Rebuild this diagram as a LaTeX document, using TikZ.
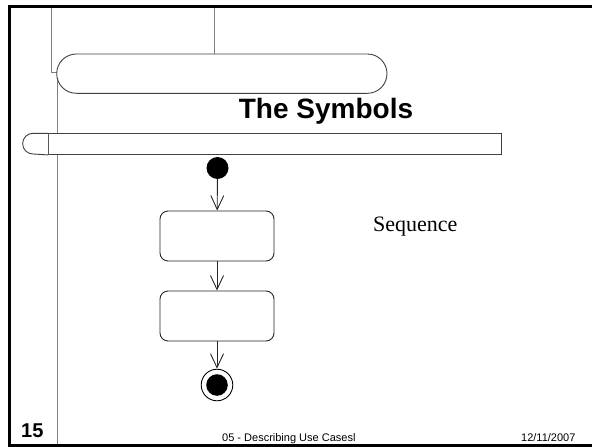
\documentclass[tikz,border=0pt]{standalone}
\usepackage{fontspec}
\setmainfont{Liberation Sans}
\newfontfamily\serifface{Liberation Serif}
\usetikzlibrary{arrows.meta}
\tikzset{
  guide/.style={draw=black!50, line width=0.9pt},
  outline/.style={draw=black!75, line width=0.9pt, fill=white},
  actbox/.style={draw=black!85, line width=0.9pt, rounded corners=8pt, minimum width=114pt, minimum height=50pt, inner sep=0pt, fill=white},
  flow/.style={draw=black!85, line width=0.9pt, -{Straight Barb[length=14pt,width=13pt]}},
}
\begin{document}
\begin{tikzpicture}[x=1pt,y=-1pt]
\useasboundingbox (0,0) rectangle (592,447);
\begin{scope}
\clip (0,0) rectangle (592,447);
% grey guide lines
\coordinate (g1) at (51.7,7);
\coordinate (g2) at (51.7,72.5);
\coordinate (g3) at (57,72.5);
\coordinate (g4) at (57,445);
\draw[guide] (g1) -- (g2) -- (g3) -- (g4);
\coordinate (g5) at (214,7);
% big stadium
\node[outline, rounded corners=19.6pt, minimum width=330.3pt, minimum height=39.3pt, inner sep=0pt] (stad) at (221.85,73.65) {};
\draw[guide] (g5) -- (g5 |- stad.north);
% thin bar
\node[outline, minimum width=453pt, minimum height=20.7pt, inner sep=0pt, anchor=north west] (bar) at (48,133.3) {};
\draw[outline] (bar.north west) -- ++(-15,0) arc[start angle=270, end angle=90, radius=10.35] -- (bar.south west);
% frame
\draw[line width=3pt, black] (600,6) -- (9,6) -- (9,445.5) -- (600,445.5);
\end{scope}
% title
\node[anchor=base, inner sep=0pt, font=\bfseries\fontsize{28}{30}\selectfont] (title) at (326,118) {The Symbols};
% activity diagram
\node[circle, fill=black, minimum size=22pt, inner sep=0pt] (start) at (217.5,168) {};
\node[actbox] (act1) at (217,236) {};
\node[actbox] (act2) at (217,316) {};
\node[circle, draw=black, line width=0.9pt, minimum size=31.6pt, inner sep=0pt] (final) at (217,385) {};
\node[circle, fill=black, minimum size=21.6pt, inner sep=0pt] (finaldot) at (final.center) {};
\draw[flow] (start) -- (act1);
\draw[flow] (act1) -- (act2);
\draw[flow] (act2) -- (final);
% label
\node[anchor=base west, inner sep=0pt, font=\serifface\fontsize{22}{24}\selectfont] (seq) at (373,231.7) {Sequence};
% footer
\node[anchor=base west, inner sep=0pt, font=\bfseries\fontsize{20}{22}\selectfont] (num) at (21,437.7) {15};
\node[anchor=base west, inner sep=0pt, font=\fontsize{11}{13}\selectfont] (foot) at (222,441) {05 - Describing Use Casesl};
\node[anchor=base west, inner sep=0pt, font=\fontsize{11}{13}\selectfont] (date) at (521,441) {12/11/2007};
\end{tikzpicture}
\end{document}
